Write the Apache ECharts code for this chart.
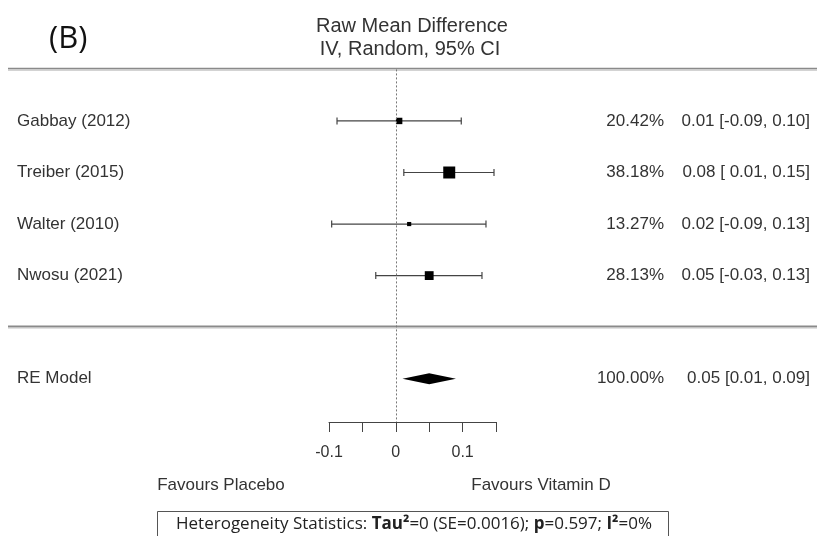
<!DOCTYPE html>
<html>
<head>
<meta charset="utf-8">
<script src="https://cdn.jsdelivr.net/npm/echarts@6/dist/echarts.min.js"></script>
<style>html,body{margin:0;padding:0;background:#fff}#c{width:817px;height:536px}</style>
</head>
<body>
<div id="c"></div>
<script>
// ---- data ----
const studies = ['Gabbay (2012)', 'Treiber (2015)', 'Walter (2010)', 'Nwosu (2021)'];
const estimates = [0.005, 0.08, 0.02, 0.05];
const lowerCI = [-0.088, 0.012, -0.096, -0.03];
const upperCI = [0.098, 0.147, 0.135, 0.129];
const weights = [20.42, 38.18, 13.27, 28.13];
const weightText = ['20.42%', '38.18%', '13.27%', '28.13%'];
const ciText = ['0.01 [-0.09, 0.10]', '0.08 [ 0.01, 0.15]', '0.02 [-0.09, 0.13]', '0.05 [-0.03, 0.13]'];
const pooledLabel = 'RE Model';
const pooledEst = 0.05, pooledLo = 0.01, pooledHi = 0.09;
const pooledWeightText = '100.00%';
const pooledCiText = '0.05 [0.01, 0.09]';
const xTicks = [-0.1, 0, 0.1];
const studyRows = [1, 2, 3, 4];
const pooledRow = 6;
const separatorRows = [0, 5];

const FONT = '"Liberation Sans", Arial, sans-serif';
const TXT = '#333';

const chart = echarts.init(document.getElementById('c'), null, {renderer: 'canvas'});

const studyData = studies.map((s, i) => [estimates[i], studyRows[i], lowerCI[i], upperCI[i], weights[i], i]);

function textEl(x, y, str, align, size) {
  return {type: 'text', style: {x: x, y: y, text: str, textAlign: align, textVerticalAlign: 'middle',
    font: (size || 17) + 'px ' + FONT, fill: TXT}};
}

const option = {
  animation: false,
  backgroundColor: '#fff',
  grid: {left: 329, width: 167, top: 69.4, bottom: 114, containLabel: false},
  xAxis: {
    type: 'value', min: -0.1, max: 0.15, interval: 0.05, position: 'bottom',
    axisLine: {show: true, onZero: false, lineStyle: {color: '#444', width: 1}},
    axisTick: {show: true, length: 10, lineStyle: {color: '#444', width: 1}},
    axisLabel: {margin: 23, fontSize: 16, fontFamily: FONT, color: TXT,
      formatter: v => { const r = Math.round(v * 100) / 100; return xTicks.some(t => Math.abs(t - r) < 1e-9) ? String(r) : ''; }},
    splitLine: {show: false}
  },
  yAxis: {type: 'value', inverse: true, min: 0, max: 6.84, show: false},
  series: [
    {
      type: 'custom', clip: false, silent: true,
      data: separatorRows.map(r => [0, r]),
      encode: {x: 0, y: 1},
      renderItem: (params, api) => {
        const p = api.coord([0, api.value(1)]);
        return {type: 'group', children: [
          {type: 'line', shape: {x1: 8, y1: p[1] - 1, x2: 817, y2: p[1] - 1}, style: {stroke: '#8a8a8a', lineWidth: 1.5}},
          {type: 'line', shape: {x1: 8, y1: p[1] + 0.6, x2: 817, y2: p[1] + 0.6}, style: {stroke: '#c4c4c4', lineWidth: 1.5}}
        ]};
      },
      markLine: {silent: true, symbol: 'none', label: {show: false},
        lineStyle: {type: [2, 2], color: '#777', width: 1},
        data: [{xAxis: 0}]}
    },
    {
      type: 'custom', clip: false, silent: true,
      data: studyData,
      encode: {x: 0, y: 1},
      renderItem: (params, api) => {
        const row = api.value(1);
        const c = api.coord([api.value(0), row]);
        const lo = api.coord([api.value(2), row]);
        const hi = api.coord([api.value(3), row]);
        const sz = api.value(4) * 0.314;
        const i = api.value(5);
        return {type: 'group', children: [
          {type: 'line', shape: {x1: lo[0], y1: lo[1], x2: hi[0], y2: hi[1]}, style: {stroke: '#444', lineWidth: 1.2}},
          {type: 'line', shape: {x1: lo[0], y1: lo[1] - 3.5, x2: lo[0], y2: lo[1] + 3.5}, style: {stroke: '#444', lineWidth: 1.2}},
          {type: 'line', shape: {x1: hi[0], y1: hi[1] - 3.5, x2: hi[0], y2: hi[1] + 3.5}, style: {stroke: '#444', lineWidth: 1.2}},
          {type: 'rect', shape: {x: c[0] - sz / 2, y: c[1] - sz / 2, width: sz, height: sz}, style: {fill: '#000'}},
          textEl(17, c[1], studies[i], 'left'),
          textEl(664, c[1], weightText[i], 'right'),
          textEl(810, c[1], ciText[i], 'right')
        ]};
      }
    },
    {
      type: 'custom', clip: false, silent: true,
      data: [[pooledEst, pooledRow, pooledLo, pooledHi]],
      encode: {x: 0, y: 1},
      renderItem: (params, api) => {
        const row = api.value(1);
        const c = api.coord([api.value(0), row]);
        const lo = api.coord([api.value(2), row]);
        const hi = api.coord([api.value(3), row]);
        const h = 5.5;
        return {type: 'group', children: [
          {type: 'polygon', shape: {points: [[lo[0], c[1]], [c[0], c[1] - h], [hi[0], c[1]], [c[0], c[1] + h]]}, style: {fill: '#000'}},
          textEl(17, c[1], pooledLabel, 'left'),
          textEl(664, c[1], pooledWeightText, 'right'),
          textEl(810, c[1], pooledCiText, 'right')
        ]};
      }
    }
  ],
  graphic: [
    {type: 'text', left: 49, top: 24, style: {text: '(B)', font: '31px "Open Sans", sans-serif', fill: '#111'}},
    {type: 'text', x: 412, y: 26, style: {text: 'Raw Mean Difference', textAlign: 'center', textVerticalAlign: 'middle', font: '20px ' + FONT, fill: TXT}},
    {type: 'text', x: 410, y: 49, style: {text: 'IV, Random, 95% CI', textAlign: 'center', textVerticalAlign: 'middle', font: '20px ' + FONT, fill: TXT}},
    {type: 'text', x: 221, y: 485, style: {text: 'Favours Placebo', textAlign: 'center', textVerticalAlign: 'middle', font: '17px ' + FONT, fill: TXT}},
    {type: 'text', x: 541, y: 485, style: {text: 'Favours Vitamin D', textAlign: 'center', textVerticalAlign: 'middle', font: '17px ' + FONT, fill: TXT}},
    {type: 'rect', shape: {x: 157.5, y: 511.5, width: 511, height: 30}, style: {fill: '#fff', stroke: '#555', lineWidth: 1}},
    {type: 'text', x: 414, y: 524, style: {
      text: '{n|Heterogeneity Statistics: }{b|Tau²}{n|=0 (SE=0.0016); }{b|p}{n|=0.597; }{b|I²}{n|=0%}',
      textAlign: 'center', textVerticalAlign: 'middle',
      rich: {
        n: {fontFamily: '"Open Sans", sans-serif', fontSize: 17, fill: '#222'},
        b: {fontFamily: '"Open Sans", sans-serif', fontSize: 17, fontWeight: 'bold', fill: '#222'}
      }}}
  ]
};
chart.setOption(option);
</script>
</body>
</html>
